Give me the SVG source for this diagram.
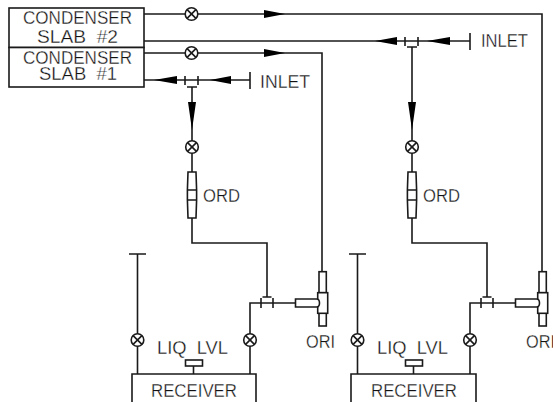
<svg xmlns="http://www.w3.org/2000/svg" width="553" height="402" viewBox="0 0 553 402">
<style>
.l{fill:none;stroke:#1a1a1a;stroke-width:1.6}
.f{fill:#fff;stroke:#1a1a1a;stroke-width:1.6}
.a{fill:#000;stroke:none}
text{font-family:"Liberation Sans",Arial,sans-serif;font-size:18px;fill:#111;white-space:pre;stroke:#fff;stroke-width:.3;paint-order:fill}
</style>
<defs>
<g id="valve"><circle class="f" r="6.300"/><path class="l" d="M-4.400-4.400L4.400 4.400M-4.400 4.400L4.400-4.400"/></g>
<g id="ord"><path class="f" d="M-4-23H4L4.600-5V5L4 23H-4L-4.600 5V-5Z"/><path class="l" d="M-4.600-5H4.600M-4.600 5H4.600"/></g>
<g id="ori"><rect class="f" x="-3.500" y="-31.300" width="7.300" height="21"/><rect class="f" x="-3.500" y="10" width="7.300" height="13"/><rect class="f" x="-4.800" y="-10.300" width="10" height="20.600"/><path class="f" d="M-27-4H-6Q-3-4-3 0Q-3 4-6 4H-27Z"/></g>
</defs>
<g id="connectors">
<path class="l" d="M144 14H542V272"/>
<path class="l" d="M144 41H470"/>
<path class="l" d="M144 53H322V272"/>
<path class="l" d="M144 80H250"/>
<path class="l" d="M192 87V141M192 153V172M192 218V243H267V297"/>
<path class="l" d="M412 47V141M412 153V172M412 218V243H487V297"/>
<path class="l" d="M137.500 254V374M250 374V303H295"/>
<path class="l" d="M357.500 254V374M470 374V303H515"/>
<path class="l" d="M129 254H146M349 254H366M250 72V89M470 33V50"/>
<path class="l" d="M185 76V85M198 76V85M187 87H197M405 37V46M418 37V46M407 47H417"/>
<path class="l" d="M261 298V308M273 298V308M262.500 297H271.500M481 298V308M493 298V308M482.500 297H491.500"/>
<path class="a" d="M285 14L264 10V18ZM285 53L264 49V57ZM154 80L177 76V84ZM210 80L231 76V84ZM375 41L397 37V45ZM427 41L450 37V45ZM192 130L188 102H196ZM412 130L408 102H416Z"/>
</g>
<g id="condenser-2"><rect class="f" x="9" y="8" width="135" height="39.500"/><text x="23" y="24" textLength="109" lengthAdjust="spacingAndGlyphs">CONDENSER</text><text x="37" y="42.500" textLength="81" lengthAdjust="spacingAndGlyphs">SLAB  #2</text></g>
<g id="condenser-1"><rect class="f" x="9" y="47.500" width="135" height="39.500"/><text x="23" y="64" textLength="109" lengthAdjust="spacingAndGlyphs">CONDENSER</text><text x="39" y="80" textLength="78" lengthAdjust="spacingAndGlyphs">SLAB  #1</text></g>
<g id="valve-top-1"><use href="#valve" x="191.500" y="14"/></g>
<g id="valve-top-2"><use href="#valve" x="191.500" y="53"/></g>
<g id="inlet-1"><text x="260" y="88" textLength="50" lengthAdjust="spacingAndGlyphs">INLET</text></g>
<g id="inlet-2"><text x="481" y="47" textLength="47" lengthAdjust="spacingAndGlyphs">INLET</text></g>
<g id="train-1">
<use href="#valve" x="192" y="147"/><use href="#ord" x="192" y="195"/><text x="203" y="202" textLength="37" lengthAdjust="spacingAndGlyphs">ORD</text>
<use href="#valve" x="137.500" y="340"/><use href="#valve" x="250" y="340"/>
<use href="#ori" x="322.500" y="303"/><text x="306" y="348" textLength="29" lengthAdjust="spacingAndGlyphs">ORI</text>
<text x="157" y="354" textLength="71" lengthAdjust="spacingAndGlyphs">LIQ  LVL</text>
<path class="l" d="M193.500 366V374"/><rect class="f" x="185.500" y="360" width="17" height="6"/>
<path class="l" d="M132 402V374H256V402"/><text x="151" y="397" textLength="86" lengthAdjust="spacingAndGlyphs">RECEIVER</text>
</g>
<g id="train-2">
<use href="#valve" x="412" y="147"/><use href="#ord" x="412" y="195"/><text x="423" y="202" textLength="37" lengthAdjust="spacingAndGlyphs">ORD</text>
<use href="#valve" x="357.500" y="340"/><use href="#valve" x="470" y="340"/>
<use href="#ori" x="542.500" y="303"/><text x="526" y="348" textLength="29" lengthAdjust="spacingAndGlyphs">ORI</text>
<text x="377" y="354" textLength="71" lengthAdjust="spacingAndGlyphs">LIQ  LVL</text>
<path class="l" d="M413.500 366V374"/><rect class="f" x="405.500" y="360" width="17" height="6"/>
<path class="l" d="M351 402V374H476V402"/><text x="371" y="397" textLength="86" lengthAdjust="spacingAndGlyphs">RECEIVER</text>
</g>
</svg>
